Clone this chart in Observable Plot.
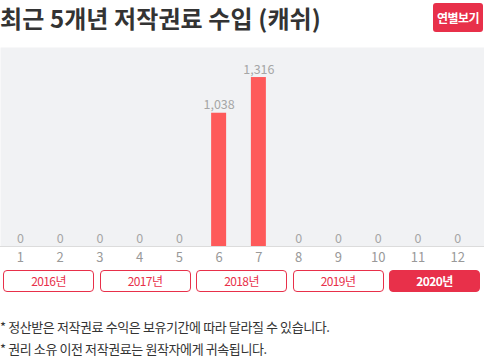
<!DOCTYPE html>
<html><head><meta charset="utf-8">
<script src="https://cdn.jsdelivr.net/npm/d3@7"></script>
<script src="https://cdn.jsdelivr.net/npm/@observablehq/plot@0.6"></script>
<style>
body{margin:0;width:484px;height:363px;position:relative;font-family:"Noto Sans CJK KR","Noto Sans",sans-serif;background:#fff;overflow:hidden}
#title{position:absolute;left:0;top:0;font-size:24px;line-height:35px;font-weight:700;color:#333;white-space:nowrap;letter-spacing:0.1px}
#btn{position:absolute;left:433px;top:3px;width:50px;height:29px;line-height:29px;background:#e8304a;color:#fff;border-radius:3px;font-size:12px;font-weight:700;text-align:center;letter-spacing:-0.6px}
#chart{position:absolute;left:0;top:45px}
#years{position:absolute;left:3px;top:270px;width:477px;height:22px;display:flex;gap:5.5px}
#years div{flex:1;box-sizing:border-box;border:1px solid #e8304a;border-radius:4px;color:#e8304a;font-size:12px;line-height:20px;text-align:center;letter-spacing:-0.6px}
#years div.on{background:#e8304a;color:#fff;font-weight:700}
#notes{position:absolute;left:0;top:316px;font-size:13px;line-height:22px;color:#333;letter-spacing:-0.4px;white-space:nowrap}
</style></head><body>
<div id="title"></div>
<div id="btn"></div>
<div id="chart"></div>
<div id="years"></div>
<div id="notes"></div>
<script>
const titleText = "최근 5개년 저작권료 수입 (캐쉬)";
const buttonText = "연별보기";
const months = [1,2,3,4,5,6,7,8,9,10,11,12];
const revenue = [0,0,0,0,0,1038,1316,0,0,0,0,0];
const years = ["2016년","2017년","2018년","2019년","2020년"];
const selectedYear = "2020년";
const notes = ["* 정산받은 저작권료 수익은 보유기간에 따라 달라질 수 있습니다.","* 권리 소유 이전 저작권료는 원작자에게 귀속됩니다."];

document.getElementById("title").textContent = titleText;
document.getElementById("btn").textContent = buttonText;
const yEl = document.getElementById("years");
years.forEach(y => { const d = document.createElement("div"); d.textContent = y; if (y === selectedYear) d.className = "on"; yEl.appendChild(d); });
const nEl = document.getElementById("notes");
notes.forEach(t => { const d = document.createElement("div"); d.textContent = t; nEl.appendChild(d); });

const data = months.map((m, i) => ({month: m, value: revenue[i]}));
const fmt = d3.format(",");
const chart = Plot.plot({
  width: 484,
  height: 220,
  marginTop: 2,
  marginBottom: 19,
  marginLeft: 0,
  marginRight: 0,
  style: {fontFamily: '"Noto Sans CJK KR","Noto Sans",sans-serif', background: "transparent"},
  x: {type: "band", domain: months, range: [0, 477], round: false, paddingInner: 0.623, paddingOuter: 0.311, label: null, tickSize: 0, tickPadding: 5},
  y: {domain: [0, 1550], axis: null},
  marks: [
    Plot.frame({fill: "#f1f2f4", stroke: null}),
    Plot.barY(data, {x: "month", y: "value", fill: "#fe5a5a"}),
    Plot.ruleY([0], {stroke: "#dcdcdc"}),
    Plot.text(data, {x: "month", y: "value", text: d => fmt(d.value), dy: -8, fill: "#a6a6a6", fontSize: 12.5}),
    Plot.axisX({tickSize: 0, tickPadding: 6, fontSize: 13, color: "#999", label: null})
  ]
});
document.getElementById("chart").appendChild(chart);
</script>
</body></html>
